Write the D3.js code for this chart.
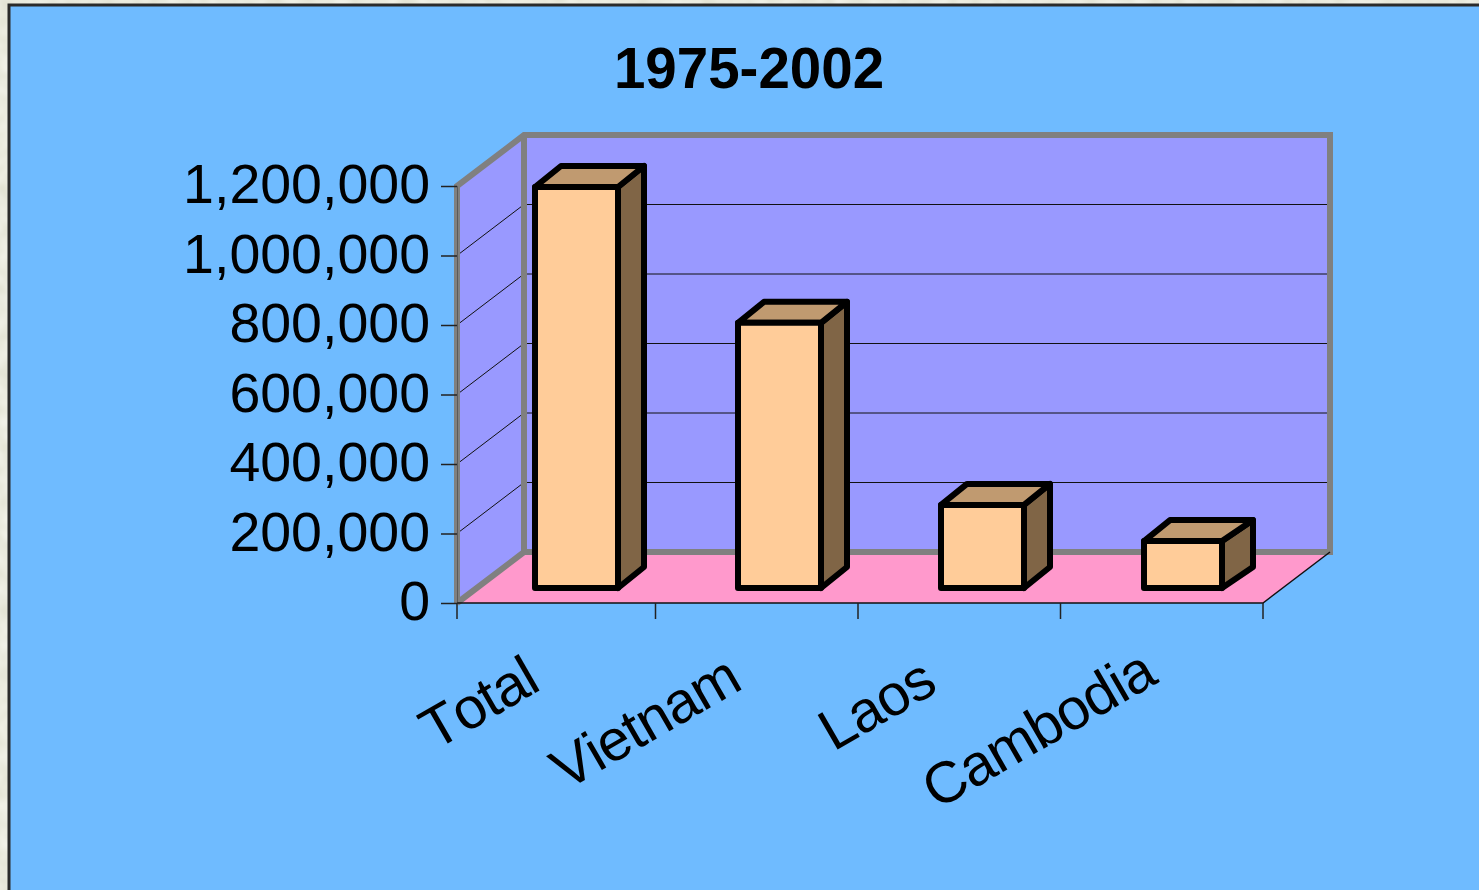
<!DOCTYPE html>
<html>
<head>
<meta charset="utf-8">
<script src="https://cdnjs.cloudflare.com/ajax/libs/d3/7.8.5/d3.min.js"></script>
<style>
  html, body { margin: 0; padding: 0; background: #ecece0; overflow: hidden; }
  text { font-family: "Liberation Sans", Arial, sans-serif; fill: #000; }
</style>
</head>
<body>
<svg id="chart"></svg>
<script>
var categories = ["Total", "Vietnam", "Laos", "Cambodia"];
var values = [1154000, 763000, 239000, 135000];
var yTicks = [0, 200000, 400000, 600000, 800000, 1000000, 1200000];
var chartTitle = "1975-2002";

var svgWidth = 1479, svgHeight = 890;
var wallDx = 67, wallDy = -51;   // how far the back wall sits behind the front axis
var barDx = 26, barDy = -21;     // depth of one bar
var barLift = 15;                // bars stand a bit back on the floor

var svg = d3.select("#chart")
  .attr("width", svgWidth)
  .attr("height", svgHeight);

// mottled cream page behind the panel
var noise = svg.append("defs").append("filter")
  .attr("id", "paper")
  .attr("x", 0).attr("y", 0).attr("width", "100%").attr("height", "100%");
noise.append("feTurbulence")
  .attr("type", "fractalNoise")
  .attr("baseFrequency", 0.06)
  .attr("numOctaves", 2)
  .attr("seed", 4);
noise.append("feColorMatrix")
  .attr("values", "0 0 0 0 0.96  0 0 0 0 0.96  0 0 0 0 0.91  0 0 0 0.9 -0.1");
svg.append("rect")
  .attr("width", svgWidth).attr("height", svgHeight)
  .attr("fill", "#e2e2d2");
svg.append("rect")
  .attr("width", svgWidth).attr("height", svgHeight)
  .attr("filter", "url(#paper)");

// background panel
svg.append("rect")
  .attr("x", 9).attr("y", 5)
  .attr("width", svgWidth).attr("height", svgHeight)
  .attr("fill", "#6fbbff")
  .attr("stroke", "#2b2b2b")
  .attr("stroke-width", 3);

svg.append("text")
  .attr("x", 749)
  .attr("y", 88)
  .attr("text-anchor", "middle")
  .attr("font-size", 56.5)
  .attr("font-weight", "bold")
  .text(chartTitle);

var y = d3.scaleLinear().domain([0, 1200000]).range([603, 186]);

// bars are 203 apart
var x = d3.scaleBand()
  .domain(categories)
  .range([457, 457 + 203 * categories.length])
  .paddingInner(0)
  .paddingOuter(0);

var xLeft = 457, xRight = 1263;
var y0 = y(0), yTop = y(1200000);

function pts(a) { return a.map(function(p) { return p.join(","); }).join(" "); }

// side wall
svg.append("polygon")
  .attr("points", pts([[xLeft, y0], [xLeft, yTop], [xLeft + wallDx, yTop + wallDy], [xLeft + wallDx, y0 + wallDy]]))
  .attr("fill", "#9999ff");
// back wall
svg.append("polygon")
  .attr("points", pts([[xLeft + wallDx, yTop + wallDy], [xRight + wallDx, yTop + wallDy], [xRight + wallDx, y0 + wallDy], [xLeft + wallDx, y0 + wallDy]]))
  .attr("fill", "#9999ff");
// floor
svg.append("polygon")
  .attr("points", pts([[xLeft, y0], [xLeft + wallDx, y0 + wallDy], [xRight + wallDx, y0 + wallDy], [xRight, y0]]))
  .attr("fill", "#ff99cc");

// gridlines
var grid = svg.append("g").attr("stroke", "#111").attr("stroke-width", 1).attr("fill", "none");
yTicks.slice(1, -1).forEach(function(t) {
  grid.append("polyline")
    .attr("points", pts([[xLeft, y(t)], [xLeft + wallDx, y(t) + wallDy], [xRight + wallDx, y(t) + wallDy]]));
});

// grey outline of the walls
svg.append("path")
  .attr("d", "M" + xLeft + "," + y0 + "V" + yTop + "L" + (xLeft + wallDx) + "," + (yTop + wallDy) +
    "H" + (xRight + wallDx) + "V" + (y0 + wallDy) + "H" + (xLeft + wallDx) + "L" + xLeft + "," + y0 +
    "M" + (xLeft + wallDx) + "," + (yTop + wallDy) + "V" + (y0 + wallDy))
  .attr("fill", "none")
  .attr("stroke", "#808080")
  .attr("stroke-width", 6);

// front floor edges
svg.append("polyline")
  .attr("points", pts([[xLeft, y0], [xRight, y0], [xRight + wallDx, y0 + wallDy]]))
  .attr("fill", "none")
  .attr("stroke", "#111")
  .attr("stroke-width", 1.5);

// y axis
var yAxis = svg.append("g")
  .attr("transform", "translate(" + xLeft + ",0)")
  .call(d3.axisLeft(y).tickValues(yTicks).tickFormat(d3.format(",")).tickSize(16).tickPadding(11));
yAxis.select(".domain").attr("stroke", "#333").attr("stroke-width", 1).attr("stroke-opacity", 0.5);
yAxis.selectAll("text")
  .attr("font-size", 55.5)
  .attr("font-family", "'Liberation Sans', Arial, sans-serif")
  .attr("dy", "0.30em");
yAxis.selectAll("line").attr("stroke", "#222").attr("stroke-width", 1.5);

// x ticks on the category edges
var xTickPos = d3.range(categories.length + 1).map(function(i) {
  return xRight - (categories.length - i) * 202.5;
});
xTickPos[0] = xLeft;
svg.append("g").selectAll("line")
  .data(xTickPos)
  .join("line")
  .attr("x1", function(d) { return d; })
  .attr("x2", function(d) { return d; })
  .attr("y1", y0)
  .attr("y2", y0 + 16)
  .attr("stroke", "#222")
  .attr("stroke-width", 1.5);

// category labels, the original places each one a little differently
var labelNudge = { Total: [1, 0], Vietnam: [0, -1], Laos: [-8, 2], Cambodia: [9, -7] };
svg.append("g").selectAll("text")
  .data(categories)
  .join("text")
  .attr("text-anchor", "end")
  .attr("font-size", 58)
  .attr("letter-spacing", -1)
  .style("font-kerning", "none")
  .attr("transform", function(d) {
    var n = labelNudge[d];
    return "translate(" + (x(d) + 84 + n[0]) + "," + (689 + n[1]) + ") rotate(-30)";
  })
  .text(function(d) { return d; });

// bars
var barW = 83;
var bars = svg.append("g").selectAll("g")
  .data(categories)
  .join("g")
  .attr("stroke", "#000")
  .attr("stroke-width", 6)
  .attr("stroke-linejoin", "round");

bars.each(function(d, i) {
  var g = d3.select(this);
  var left = x(d) + 78;
  // Cambodia's front face comes out narrower in the original
  var right = left + barW - (d === "Cambodia" ? 5 : 0);
  var backRight = left + barW + barDx;
  var base = y0 - barLift;
  var top = y(values[i]) - barLift;
  g.append("polygon")
    .attr("points", pts([[right, top], [backRight, top + barDy], [backRight, base + barDy], [right, base]]))
    .attr("fill", "#806546");
  g.append("polygon")
    .attr("points", pts([[left, top], [left + barDx, top + barDy], [backRight, top + barDy], [right, top]]))
    .attr("fill", "#c09a70");
  g.append("rect")
    .attr("x", left)
    .attr("y", top)
    .attr("width", right - left)
    .attr("height", base - top)
    .attr("fill", "#ffcc99");
});
</script>
</body>
</html>
